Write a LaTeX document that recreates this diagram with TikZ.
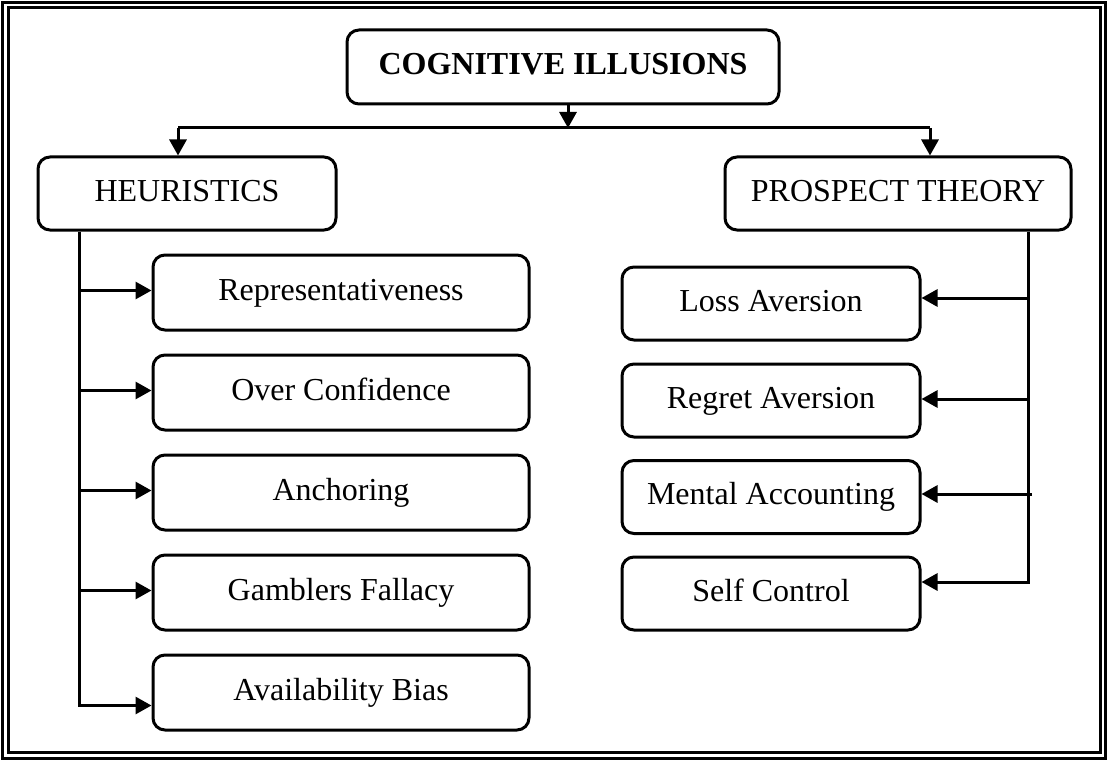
\documentclass[tikz,border=0pt]{standalone}
\usepackage{fontspec}
\setmainfont{Liberation Serif}
\usetikzlibrary{arrows.meta}
\begin{document}
\begin{tikzpicture}[x=1pt,y=-1pt,
  box/.style={draw,line width=3pt,rounded corners=12pt,inner sep=0pt,
    text height=22pt,text depth=7pt,
    font=\fontsize{32}{36}\selectfont},
  leftbox/.style={box,minimum width=376pt,minimum height=75pt},
  rightbox/.style={box,minimum width=298pt,minimum height=73pt},
  link/.style={line width=3pt},
  arr/.style={link,-{Triangle[length=16pt,width=17pt]}}]
\useasboundingbox (0,0) rectangle (1108,762);
% double frame
\draw[line width=3pt] (2.5,2.5) rectangle (1105.5,758);
\draw[line width=3pt] (8,8) rectangle (1100,752.5);
% title and the two branches
\node[box,minimum width=432pt,minimum height=74pt,font=\fontsize{32}{36}\selectfont\bfseries] (top) at (563,67) {COGNITIVE ILLUSIONS};
\node[box,minimum width=298pt,minimum height=73pt] (heur) at (187,193.5) {HEURISTICS};
\node[box,minimum width=346pt,minimum height=73pt] (pros) at (898,193.5) {PROSPECT THEORY};
% heuristics
\node[leftbox] (l1) at (341,292.5) {Representativeness};
\node[leftbox] (l2) at (341,392.5) {Over Confidence};
\node[leftbox] (l3) at (341,492.5) {Anchoring};
\node[leftbox] (l4) at (341,592.5) {Gamblers Fallacy};
\node[leftbox] (l5) at (341,692.5) {Availability Bias};
% prospect theory
\node[rightbox] (r1) at (771,303.5) {Loss Aversion};
\node[rightbox] (r2) at (771,400.5) {Regret Aversion};
\node[rightbox] (r3) at (771,497) {Mental Accounting};
\node[rightbox] (r4) at (771,593.5) {Self Control};
% top-level connectors
\coordinate (split) at (568,128);
\coordinate (hl) at (178,128);
\coordinate (hr) at (930,128);
\draw[arr] (top.south -| split) -- (split);
\draw[link] (hl) -- (hr);
\draw[arr] (hl) -- (heur.north -| hl);
\draw[arr] (hr) -- (pros.north -| hr);
% left trunk
\coordinate (tL) at (79,0);
\draw[arr] (heur.south -| tL) |- ([yshift=-13pt]l5.west);
\draw[arr] ([yshift=2pt]l1.west -| tL) -- ([yshift=2pt]l1.west);
\draw[arr] ([yshift=2pt]l2.west -| tL) -- ([yshift=2pt]l2.west);
\draw[arr] ([yshift=2pt]l3.west -| tL) -- ([yshift=2pt]l3.west);
\draw[arr] ([yshift=2pt]l4.west -| tL) -- ([yshift=2pt]l4.west);
% right trunk
\coordinate (tR) at (1028,0);
\draw[arr] (pros.south -| tR) |- ([yshift=11.5pt]r4.east);
\draw[arr] ([yshift=5.5pt]r1.east -| tR) -- ([yshift=5.5pt]r1.east);
\draw[arr] ([yshift=1.5pt]r2.east -| tR) -- ([yshift=1.5pt]r2.east);
\draw[arr] ([shift={(4pt,3pt)}]r3.east -| tR) -- ([yshift=3pt]r3.east);
\end{tikzpicture}
\end{document}
